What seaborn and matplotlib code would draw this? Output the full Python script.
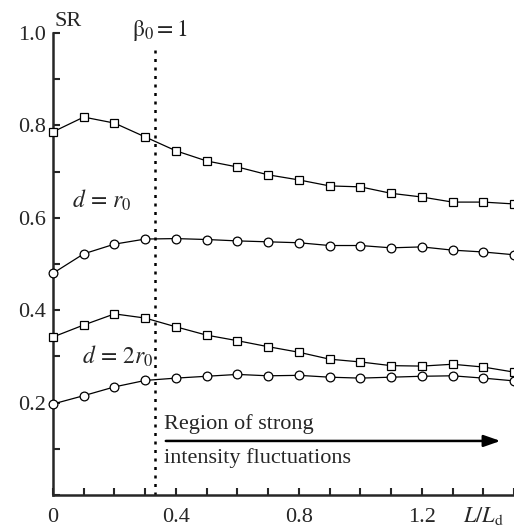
import numpy as np
import pandas as pd
import seaborn as sns
import matplotlib.pyplot as plt

# L/Ld values
x = [0.0, 0.1, 0.2, 0.3, 0.4, 0.5, 0.6, 0.7, 0.8, 0.9, 1.0, 1.1, 1.2, 1.3, 1.4, 1.5]

# d = r0
sr_r0_sq = [0.786, 0.818, 0.805, 0.775, 0.745, 0.723, 0.710, 0.693, 0.682, 0.669,
            0.667, 0.653, 0.645, 0.634, 0.634, 0.630]
sr_r0_ci = [0.480, 0.522, 0.543, 0.554, 0.555, 0.553, 0.550, 0.548, 0.546, 0.540,
            0.540, 0.535, 0.537, 0.530, 0.526, 0.520]
# d = 2r0
sr_2r0_sq = [0.342, 0.368, 0.392, 0.383, 0.364, 0.346, 0.334, 0.321, 0.309, 0.294,
             0.288, 0.280, 0.279, 0.283, 0.277, 0.266]
sr_2r0_ci = [0.197, 0.215, 0.234, 0.248, 0.253, 0.257, 0.261, 0.258, 0.259, 0.255,
             0.253, 0.255, 0.257, 0.258, 0.253, 0.247]

beta_x = 0.332

sns.set_style("ticks")
plt.rcParams['font.family'] = ['Liberation Serif', 'DejaVu Serif']
plt.rcParams['mathtext.fontset'] = 'stix'

fig = plt.figure(figsize=(5.14, 5.27), dpi=100)
ax = fig.add_axes([53 / 514, 1 - 495 / 527, 1 - 53 / 514, (495 - 33) / 527])

series = [(sr_r0_sq, 's'), (sr_r0_ci, 'o'), (sr_2r0_sq, 's'), (sr_2r0_ci, 'o')]
for ys, m in series:
    df = pd.DataFrame({'x': x, 'y': ys})
    sns.lineplot(data=df, x='x', y='y', ax=ax, color='black', lw=0.9,
                 marker=m, markersize=6.3 if m == 'o' else 5.6,
                 markerfacecolor='white', markeredgecolor='black',
                 markeredgewidth=0.9, clip_on=False, zorder=3)

ax.plot([beta_x, beta_x], [0, 0.963], color='black', ls=(0, (1.2, 2.2)), lw=1.8)

ax.set_xlim(0, 1.5)
ax.set_ylim(0, 1.0)
ax.set_xticks(np.arange(0, 1.51, 0.1))
ax.set_xticklabels(['0', '', '', '', '0.4', '', '', '', '0.8', '', '', '', '1.2', '', '', ''])
ax.set_yticks(np.arange(0, 1.01, 0.1))
ax.set_yticklabels(['', '', '0.2', '', '0.4', '', '0.6', '', '0.8', '', '1.0'])
ax.tick_params(direction='in', length=5, width=1.5, labelsize=16)
ax.tick_params(axis='x', pad=9)
ax.tick_params(axis='y', pad=5)
ax.set_xlabel('')
ax.set_ylabel('')
sns.despine(ax=ax)
for s in ['left', 'bottom']:
    ax.spines[s].set_linewidth(1.8)

ax.text(1.4, -0.046, r'$L/L_{\mathrm{d}}$', ha='center', va='center', fontsize=16)
ax.text(0.005, 1.005, 'SR', ha='left', va='bottom', fontsize=16)
ax.text(beta_x - 0.075, 1.005, r'$\mathrm{\beta}_0 = 1$', ha='left', va='center', fontsize=17)
ax.text(0.062, 0.638, r'$d\, =\, r_0$', fontsize=17, va='center')
ax.text(0.095, 0.30, r'$d\, =\, 2r_0$', fontsize=17, va='center')

ax.annotate('', xy=(1.465, 0.117), xytext=(0.358, 0.117),
            arrowprops=dict(arrowstyle='-|>,head_length=1.0,head_width=0.35',
                            color='black', lw=1.8))
ax.text(0.36, 0.153, 'Region of strong', fontsize=16, va='center')
ax.text(0.36, 0.080, 'intensity fluctuations', fontsize=16, va='center')

plt.savefig('out.png', dpi=100)
